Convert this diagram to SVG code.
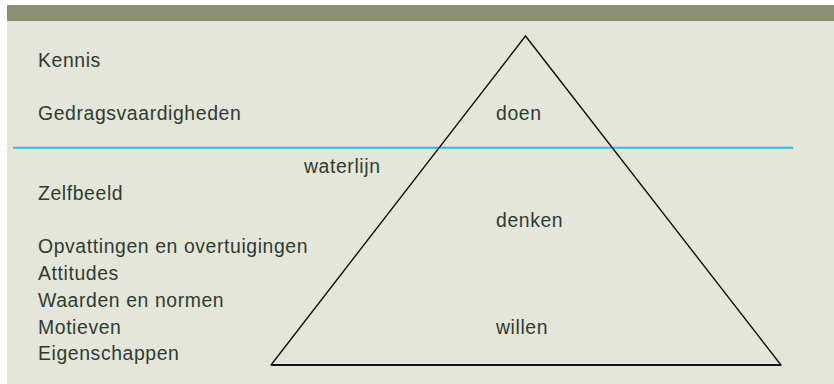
<svg xmlns="http://www.w3.org/2000/svg" width="834" height="384" viewBox="0 0 834 384">
<style>
.t{font-family:"Liberation Sans",Arial,sans-serif;font-size:19.4px;letter-spacing:0.6px;fill:#2f3b32}
.edge{stroke:#111;stroke-width:1.4;fill:none;stroke-linecap:round}
</style>
<rect x="0" y="0" width="834" height="384" fill="#ffffff"/>
<rect x="7" y="5" width="827" height="379" fill="#e3e6d9"/>
<rect x="7" y="5" width="827" height="16" fill="#879171"/>
<g id="connectors">
<line id="waterline" x1="13" y1="147.7" x2="793" y2="147.7" stroke="#22c2ea" stroke-width="2"/>
<path class="edge" d="M271 365 L525.5 36 L781 365"/>
<line x1="271" y1="365" x2="781" y2="365" stroke="#111" stroke-width="2"/>
</g>
<g id="left-labels">
<text class="t" x="38" y="67">Kennis</text>
<text class="t" x="38" y="120">Gedragsvaardigheden</text>
<text class="t" x="38" y="200">Zelfbeeld</text>
<text class="t" x="38" y="253">Opvattingen en overtuigingen</text>
<text class="t" x="38" y="280">Attitudes</text>
<text class="t" x="38" y="307">Waarden en normen</text>
<text class="t" x="38" y="334">Motieven</text>
<text class="t" x="38" y="360">Eigenschappen</text>
</g>
<g id="waterlijn-label"><text class="t" x="304" y="173">waterlijn</text></g>
<g id="doen"><text class="t" x="496" y="120">doen</text></g>
<g id="denken"><text class="t" x="496" y="227">denken</text></g>
<g id="willen"><text class="t" x="496" y="334">willen</text></g>
</svg>
